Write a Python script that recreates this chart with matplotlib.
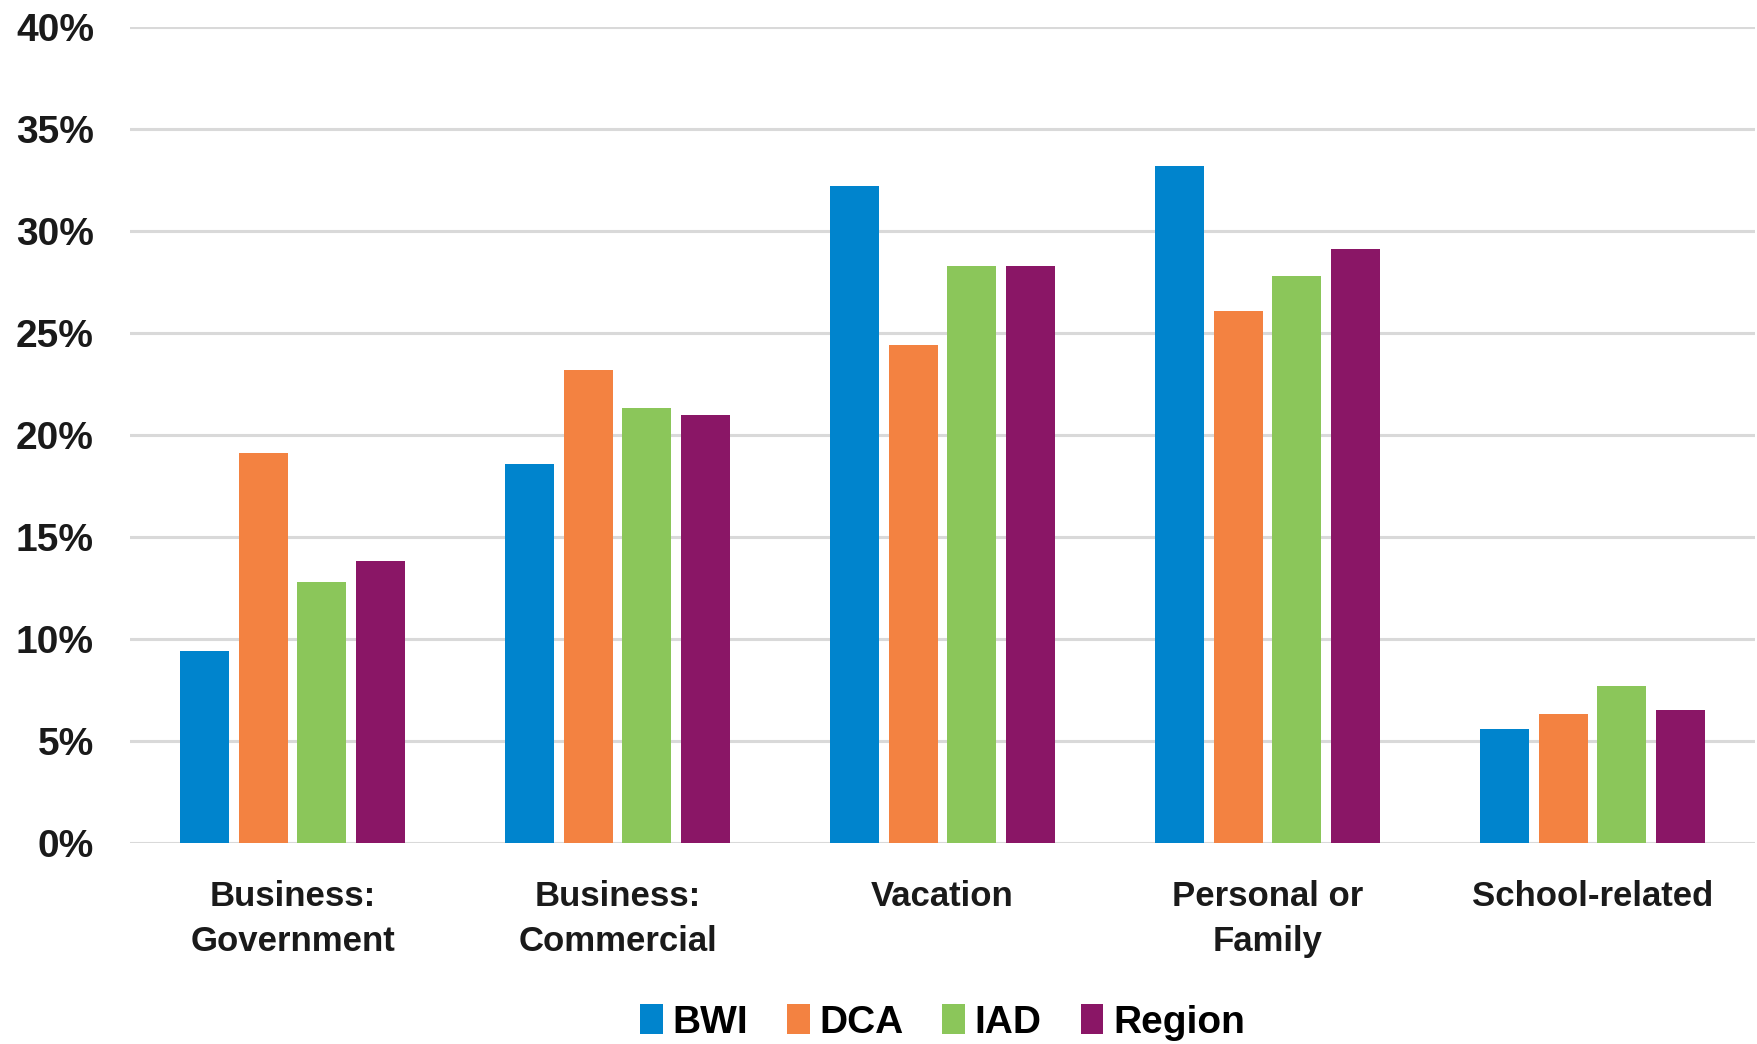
import matplotlib
matplotlib.use('Agg')
import matplotlib.pyplot as plt
from matplotlib.patches import Patch
from matplotlib.ticker import FuncFormatter
import numpy as np

# ─── DATA ────────────────────────────────────────────────────────────────────
categories = ['Business:\nGovernment', 'Business:\nCommercial', 'Vacation',
              'Personal or\nFamily', 'School-related']
series = ['BWI', 'DCA', 'IAD', 'Region']
bwi = [0.094, 0.186, 0.322, 0.332, 0.056]
dca = [0.191, 0.232, 0.244, 0.261, 0.063]
iad = [0.128, 0.213, 0.283, 0.278, 0.077]
region = [0.138, 0.210, 0.283, 0.291, 0.065]
yticks = [0, 0.05, 0.10, 0.15, 0.20, 0.25, 0.30, 0.35, 0.40]

colors = ['#0084CD', '#F38241', '#8BC65A', '#8A1666']

# ─── DRAWING ─────────────────────────────────────────────────────────────────
plt.rcParams['font.family'] = ['Liberation Sans', 'DejaVu Sans']

fig = plt.figure(figsize=(17.58, 10.44), dpi=100)
ax = fig.add_axes([130 / 1758, 1 - 843 / 1044, 1625 / 1758, (843 - 27) / 1044])

x = np.arange(len(categories))
pitch = 0.18
width = 0.15
for i, (vals, col) in enumerate(zip([bwi, dca, iad, region], colors)):
    ax.bar(x + (i - 1.5) * pitch, vals, width, color=col, zorder=3)

ax.set_xlim(-0.5, len(categories) - 0.5)
ax.set_ylim(0, 0.40)
ax.set_yticks(yticks)
ax.yaxis.set_major_formatter(FuncFormatter(lambda v, _: f'{v * 100:.0f}%'))
ax.set_xticks(x)
ax.set_xticklabels(categories, fontsize=25, fontweight='bold',
                   linespacing=1.45, color='#1a1a1a')
ax.tick_params(axis='y', length=0, pad=26, labelsize=28, labelcolor='#1a1a1a')
ax.tick_params(axis='x', length=0, pad=27)
for lab in ax.get_yticklabels():
    lab.set_fontweight('bold')

ax.grid(axis='y', color='#D9D9D9', linewidth=2.2, zorder=0)
for name, spine in ax.spines.items():
    spine.set_visible(False)

handles = [Patch(facecolor=c, edgecolor='none') for c in colors]
ax.legend(handles, series, loc='center', bbox_to_anchor=(0.5, -0.22),
          ncol=4, frameon=False, handlelength=0.58, handleheight=0.8,
          handletextpad=0.25, columnspacing=1.0,
          prop={'weight': 'bold', 'size': 28})

plt.savefig('out.png', dpi=100, facecolor='white')
plt.close()
